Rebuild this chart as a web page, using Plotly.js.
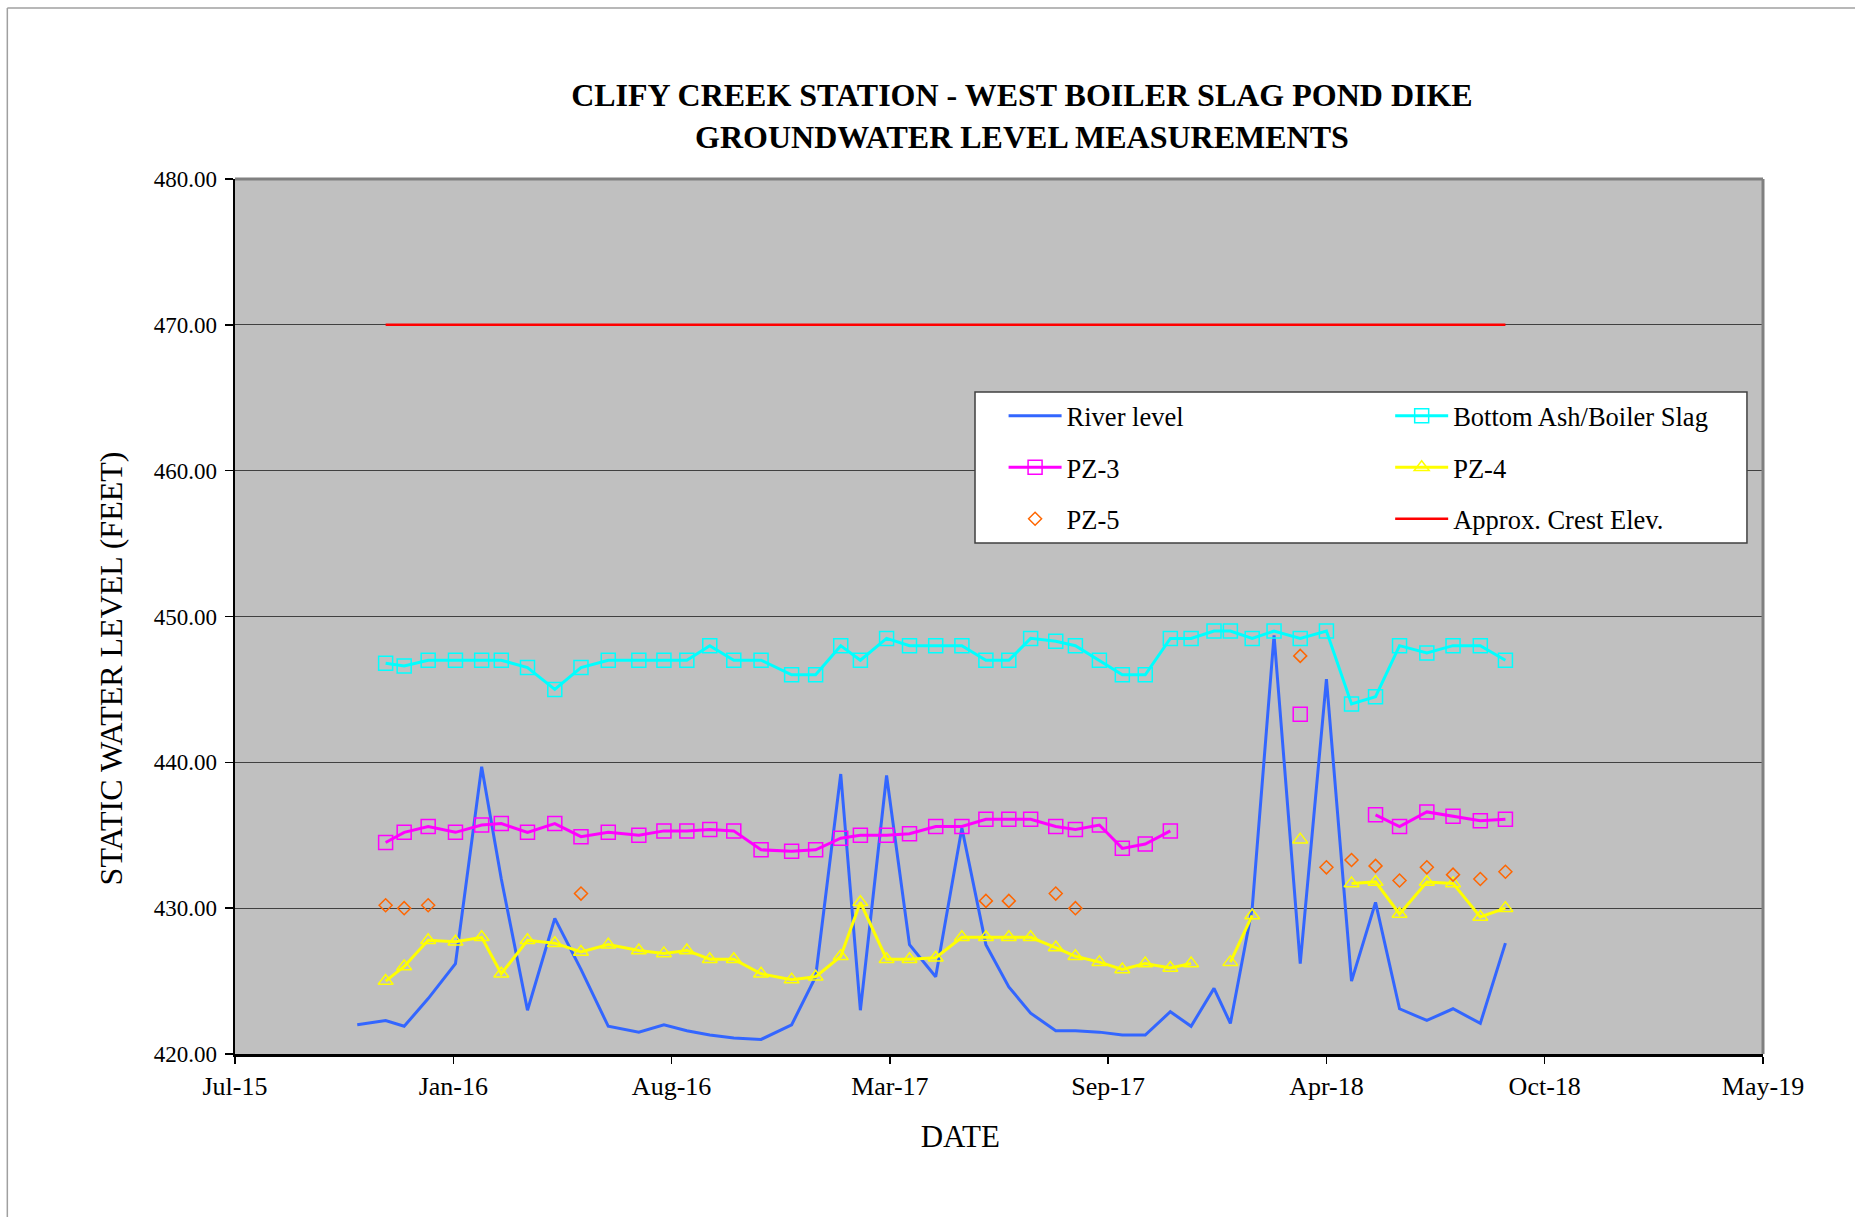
<!DOCTYPE html>
<html>
<head>
<meta charset="utf-8">
<script src="https://cdn.plot.ly/plotly-3.0.1.min.js"></script>
<style>
html,body{margin:0;padding:0;background:#fff;}
#chart{width:1855px;height:1217px;}
</style>
</head>
<body>
<div id="chart"></div>
<script>
// Measurement dates (wells)
const dates = [
 '2015-11-30','2015-12-17','2016-01-08','2016-02-02','2016-02-26','2016-03-15','2016-04-08','2016-05-03',
 '2016-05-27','2016-06-21','2016-07-19','2016-08-11','2016-09-01','2016-09-22','2016-10-14','2016-11-08',
 '2016-12-06','2016-12-28','2017-01-20','2017-02-07','2017-03-03','2017-03-24','2017-04-17','2017-05-11',
 '2017-06-02','2017-06-23','2017-07-13','2017-08-05','2017-08-23','2017-09-14','2017-10-05','2017-10-26',
 '2017-11-18','2017-12-07','2017-12-28','2018-01-12','2018-02-01','2018-02-21','2018-03-17','2018-04-10',
 '2018-05-03','2018-05-25','2018-06-16','2018-07-11','2018-08-04','2018-08-29','2018-09-21'
];
// River level dates (one extra reading before the wells)
const riverDates = [
 '2015-11-04','2015-11-30','2015-12-17','2016-01-08','2016-02-02','2016-02-26','2016-03-15','2016-04-08','2016-05-03',
 '2016-05-27','2016-06-21','2016-07-19','2016-08-11','2016-09-01','2016-09-22','2016-10-14','2016-11-08',
 '2016-12-06','2016-12-28','2017-01-20','2017-02-07','2017-03-03','2017-03-24','2017-04-17','2017-05-11',
 '2017-06-02','2017-06-23','2017-07-13','2017-08-05','2017-08-23','2017-09-14','2017-10-05','2017-10-26',
 '2017-11-18','2017-12-07','2017-12-28','2018-01-12','2018-02-01','2018-02-21','2018-03-17','2018-04-10',
 '2018-05-03','2018-05-25','2018-06-16','2018-07-11','2018-08-04','2018-08-29','2018-09-21'
];
const riverLevel = [
 422.0,422.3,421.9,423.8,426.2,439.7,432.0,423.0,429.3,425.8,421.9,421.5,
 422.0,421.6,421.3,421.1,421.0,422.0,425.3,439.2,423.0,439.1,427.5,425.3,
 435.5,427.5,424.6,422.8,421.6,421.6,421.5,421.3,421.3,422.9,421.9,424.5,
 422.1,430.0,448.7,426.2,445.7,425.0,430.4,423.1,422.3,423.1,422.1,427.6
];
const bottomAsh = [
 446.8,446.6,447.0,447.0,447.0,447.0,446.5,445.0,446.5,447.0,447.0,447.0,
 447.0,448.0,447.0,447.0,446.0,446.0,448.0,447.0,448.5,448.0,448.0,448.0,
 447.0,447.0,448.5,448.3,448.0,447.0,446.0,446.0,448.5,448.5,449.0,449.0,
 448.5,449.0,448.5,449.0,444.0,444.5,448.0,447.5,448.0,448.0,447.0
];
const pz3 = [
 434.5,435.2,435.6,435.2,435.7,435.8,435.2,435.8,434.9,435.2,435.0,435.3,
 435.3,435.4,435.3,434.0,433.9,434.0,434.8,435.0,435.0,435.1,435.6,435.6,
 436.1,436.1,436.1,435.6,435.4,435.7,434.1,434.4,435.3,null,null,null,
 null,null,443.3,null,null,436.4,435.6,436.6,436.3,436.0,436.1
];
const pz4 = [
 425.0,426.0,427.8,427.7,428.0,425.5,427.8,427.6,427.0,427.5,427.1,426.9,
 427.1,426.5,426.5,425.5,425.1,425.3,426.7,430.4,426.5,426.5,426.6,428.0,
 428.0,428.0,428.0,427.3,426.7,426.3,425.8,426.2,425.9,426.2,null,426.3,
 429.5,null,434.7,null,431.7,431.8,429.6,431.8,431.7,429.4,430.0
];
const pz5 = [
 430.2,430.0,430.2,null,null,null,null,null,431.0,null,null,null,
 null,null,null,null,null,null,null,null,null,null,null,null,
 430.5,430.5,null,431.0,430.0,null,null,null,null,null,null,null,
 null,null,447.3,432.8,433.3,432.9,431.9,432.8,432.3,432.0,432.5
];
const crestDates = ['2015-11-30','2018-09-21'];
const crestElev = [470.0, 470.0];

const xTickVals = ['2015-07-15','2016-01-31','2016-08-18','2017-03-06','2017-09-22','2018-04-10','2018-10-27','2019-05-15'];
const xTickText = ['Jul-15','Jan-16','Aug-16','Mar-17','Sep-17','Apr-18','Oct-18','May-19'];
const yTickVals = [420,430,440,450,460,470,480];

const FONT = 'Liberation Serif, Times New Roman, serif';
const pad = n => '&nbsp;'.repeat(n);

const traces = [
 {x: riverDates, y: riverLevel, name: 'River level', type: 'scatter', mode: 'lines',
  line: {color: '#3366FF', width: 3}, legend: 'legend', legendgroup: 'g1'},
 {x: dates, y: bottomAsh, name: 'Bottom Ash/Boiler Slag', type: 'scatter', mode: 'lines+markers',
  line: {color: '#00FFFF', width: 3},
  marker: {symbol: 'square-open', size: 14, color: '#00FFFF', line: {width: 1.5, color: '#00FFFF'}},
  legend: 'legend2', legendgroup: 'g2'},
 {x: dates, y: pz3, name: 'PZ-3', type: 'scatter', mode: 'lines+markers', connectgaps: false,
  line: {color: '#FF00FF', width: 3},
  marker: {symbol: 'square-open', size: 14, color: '#FF00FF', line: {width: 1.5, color: '#FF00FF'}},
  legend: 'legend', legendgroup: 'g3'},
 {x: dates, y: pz4, name: 'PZ-4', type: 'scatter', mode: 'lines+markers', connectgaps: false,
  line: {color: '#FFFF00', width: 3},
  marker: {symbol: 'triangle-up-open', size: 13, color: '#FFFF00', line: {width: 1.5, color: '#FFFF00'}},
  legend: 'legend2', legendgroup: 'g4'},
 {x: dates, y: pz5, name: 'PZ-5', type: 'scatter', mode: 'markers',
  marker: {symbol: 'diamond-open', size: 10, color: '#FF6600', line: {width: 1.5, color: '#FF6600'}},
  legend: 'legend', legendgroup: 'g5'},
 {x: crestDates, y: crestElev, name: 'Approx. Crest Elev.', type: 'scatter', mode: 'lines',
  line: {color: '#FF0000', width: 2.5}, legend: 'legend2', legendgroup: 'g6'}
];

const legendCommon = {
  bgcolor: 'rgba(0,0,0,0)', borderwidth: 0,
  font: {family: FONT, size: 26.5, color: '#000'},
  tracegroupgap: 14, yanchor: 'top', xanchor: 'left', orientation: 'v',
  itemwidth: 53
};

const layout = {
  width: 1855, height: 1217,
  paper_bgcolor: '#FFFFFF', plot_bgcolor: '#C0C0C0',
  margin: {l: 235, r: 92, t: 179, b: 163, pad: 0},
  font: {family: FONT, color: '#000'},
  showlegend: true,
  title: {
    text: 'CLIFY CREEK STATION - WEST BOILER SLAG POND DIKE<br>GROUNDWATER LEVEL MEASUREMENTS',
    font: {family: FONT, size: 32, color: '#000', weight: 'bold'},
    x: 0.515, xref: 'paper', xanchor: 'center',
    y: 0.9125, yref: 'container', yanchor: 'top'
  },
  xaxis: {
    type: 'date', range: ['2015-07-15', '2019-05-15'],
    tickmode: 'array', tickvals: xTickVals, ticktext: xTickText,
    ticks: 'outside', ticklen: 7, tickwidth: 1.5, tickcolor: '#000',
    tickfont: {family: FONT, size: 26, color: '#000'},
    showgrid: false, zeroline: false,
    showline: true, linecolor: '#000', linewidth: 2.5,
    title: {text: 'DATE' + pad(10), font: {family: FONT, size: 31, color: '#000'}, standoff: 26}
  },
  yaxis: {
    range: [420, 480], tickmode: 'array', tickvals: yTickVals, tickformat: '.2f',
    ticks: 'outside', ticklen: 8, tickwidth: 1.5, tickcolor: '#000',
    ticklabelstandoff: 3,
    tickfont: {family: FONT, size: 23, color: '#000'},
    showgrid: true, gridcolor: '#404040', gridwidth: 1.2, zeroline: false,
    showline: true, linecolor: '#000', linewidth: 2.5,
    title: {text: 'STATIC WATER LEVEL (FEET)' + pad(13), font: {family: FONT, size: 32, color: '#000'}, standoff: 22}
  },
  legend: Object.assign({}, legendCommon, {x: 0.503, y: 0.7565}),
  legend2: Object.assign({}, legendCommon, {x: 0.756, y: 0.7565}),
  shapes: [
    // legend box
    {type: 'rect', xref: 'paper', yref: 'paper', x0: 0.4843, x1: 0.9895, y0: 0.584, y1: 0.7566,
     fillcolor: '#FFFFFF', line: {color: '#404040', width: 1.5}, layer: 'above'},
    // plot area top & right border (gray)
    {type: 'line', xref: 'paper', yref: 'paper', x0: 0, x1: 1, y0: 1, y1: 1,
     line: {color: '#808080', width: 3}, layer: 'above'},
    {type: 'line', xref: 'paper', yref: 'paper', x0: 1, x1: 1, y0: 0, y1: 1,
     line: {color: '#808080', width: 3}, layer: 'above'},
    // chart area border (top & left)
    {type: 'line', xref: 'paper', yref: 'paper', x0: -0.149, x1: 1.1, y0: 1.1954, y1: 1.1954,
     line: {color: '#A0A0A0', width: 1.5}, layer: 'above'},
    {type: 'line', xref: 'paper', yref: 'paper', x0: -0.149, x1: -0.149, y0: -0.2, y1: 1.1954,
     line: {color: '#A0A0A0', width: 1.5}, layer: 'above'}
  ]
};

Plotly.newPlot('chart', traces, layout, {displayModeBar: false, staticPlot: true});
</script>
</body>
</html>
